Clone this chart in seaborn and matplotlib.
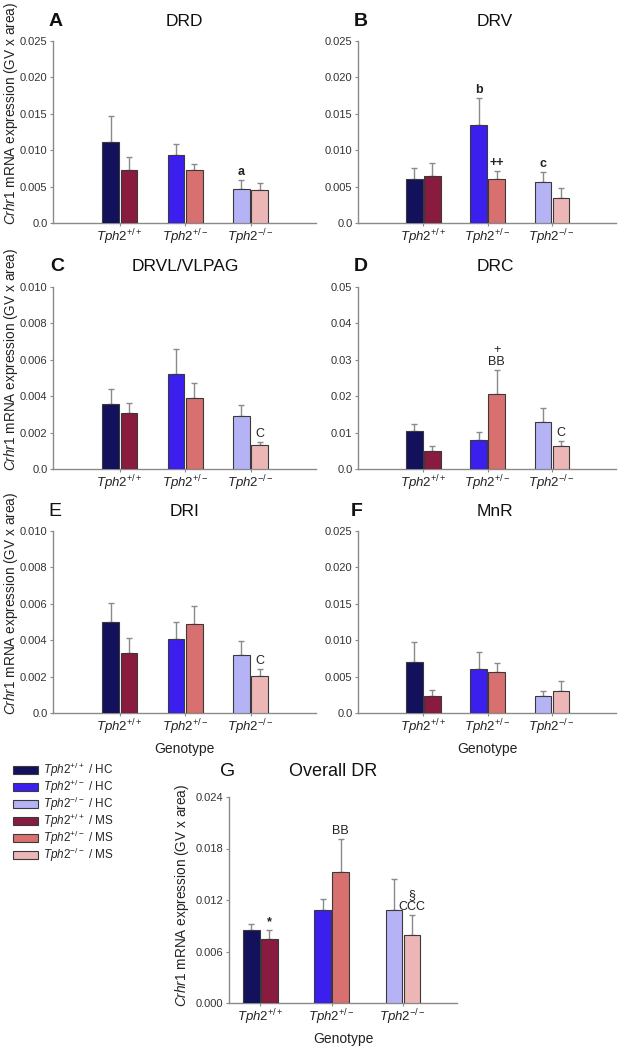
"""Crhr1 mRNA expression in DR subregions by Tph2 genotype and rearing condition."""
import matplotlib
matplotlib.use("Agg")
import matplotlib.pyplot as plt
import numpy as np
import pandas as pd
import seaborn as sns
from matplotlib.patches import Patch

# ---- data ----
GENOTYPES = ["+/+", "+/-", "-/-"]
CONDITIONS = ["HC", "MS"]

DRD_HC = [0.0111, 0.0093, 0.0047]
DRD_MS = [0.0073, 0.0073, 0.0045]
DRD_HC_SEM = [0.0036, 0.0016, 0.0012]
DRD_MS_SEM = [0.0018, 0.0008, 0.0010]

DRV_HC = [0.0061, 0.0134, 0.0057]
DRV_MS = [0.0065, 0.0060, 0.0035]
DRV_HC_SEM = [0.0014, 0.0038, 0.0013]
DRV_MS_SEM = [0.0018, 0.0012, 0.0013]

DRVL_HC = [0.00356, 0.00522, 0.00292]
DRVL_MS = [0.00307, 0.00392, 0.00131]
DRVL_HC_SEM = [0.00084, 0.00140, 0.00062]
DRVL_MS_SEM = [0.00058, 0.00078, 0.00015]

DRC_HC = [0.0105, 0.0079, 0.0130]
DRC_MS = [0.0050, 0.0205, 0.0064]
DRC_HC_SEM = [0.0020, 0.0024, 0.0037]
DRC_MS_SEM = [0.0014, 0.0066, 0.0014]

DRI_HC = [0.00502, 0.00407, 0.00321]
DRI_MS = [0.00329, 0.00489, 0.00201]
DRI_HC_SEM = [0.00101, 0.00092, 0.00077]
DRI_MS_SEM = [0.00082, 0.00099, 0.00042]

MNR_HC = [0.0070, 0.0061, 0.0023]
MNR_MS = [0.0024, 0.0057, 0.0030]
MNR_HC_SEM = [0.0027, 0.0023, 0.0007]
MNR_MS_SEM = [0.0008, 0.0011, 0.0014]

ALL_HC = [0.00845, 0.01084, 0.01080]
ALL_MS = [0.00743, 0.01527, 0.00796]
ALL_HC_SEM = [0.00076, 0.00132, 0.00370]
ALL_MS_SEM = [0.00110, 0.00386, 0.00227]

# (condition, genotype index, label)
DRD_MARKS = [("HC", 2, "a")]
DRV_MARKS = [("HC", 1, "b"), ("MS", 1, "++"), ("HC", 2, "c")]
DRVL_MARKS = [("MS", 2, "C")]
DRC_MARKS = [("MS", 1, "+\nBB"), ("MS", 2, "C")]
DRI_MARKS = [("MS", 2, "C")]
MNR_MARKS = []
ALL_MARKS = [("MS", 0, "*"), ("MS", 1, "BB"), ("MS", 2, "§\nCCC")]

TICKS_025 = [0, 0.005, 0.010, 0.015, 0.020, 0.025]
TICKS_010 = [0, 0.002, 0.004, 0.006, 0.008, 0.010]
TICKS_05 = [0, 0.01, 0.02, 0.03, 0.04, 0.05]
TICKS_024 = [0, 0.006, 0.012, 0.018, 0.024]

HC_COLORS = ["#13105c", "#3a1fef", "#b5b2f5"]
MS_COLORS = ["#891b3e", "#d8706f", "#ecb6b6"]

# ---- style ----
sns.set_theme(style="ticks")
plt.rcParams["font.family"] = ["Liberation Sans", "DejaVu Sans"]
plt.rcParams["mathtext.fontset"] = "custom"
plt.rcParams["mathtext.rm"] = "Liberation Sans"
plt.rcParams["mathtext.it"] = "Liberation Sans:italic"
plt.rcParams["mathtext.bf"] = "Liberation Sans:bold"

GREY = "#8a8a8a"
TEXT = "#222222"
W, H = 624, 1050
BOLD_MARKS = ("++", "*", "a", "b", "c")


def geno_label(g):
    return r"$\it{Tph2}^{\mathrm{" + g + "}}$"


def px_rect(left, top, right, bottom):
    return [left / W, 1 - bottom / H, (right - left) / W, (bottom - top) / H]


def panel(fig, rect, hc, ms, hc_sem, ms_sem, yticks, fmt, zero, marks,
          xlim=(-1.02, 3.0), width=0.56, genotype_label=False):
    ax = fig.add_axes(rect)
    df = pd.DataFrame({
        "genotype": GENOTYPES * 2,
        "condition": ["HC"] * 3 + ["MS"] * 3,
        "value": list(hc) + list(ms),
    })
    sns.barplot(data=df, x="genotype", y="value", hue="condition",
                order=GENOTYPES, hue_order=CONDITIONS,
                palette={"HC": HC_COLORS[0], "MS": MS_COLORS[0]},
                width=width, gap=0.09, errorbar=None, legend=False,
                edgecolor="#3a3a3a", linewidth=0.8, ax=ax, zorder=3)
    tops = {}
    for cond, cont, cols, sem in zip(CONDITIONS, ax.containers,
                                     [HC_COLORS, MS_COLORS], [hc_sem, ms_sem]):
        xs, hs = [], []
        for i, bar in enumerate(cont):
            bar.set_facecolor(cols[i])
            xs.append(bar.get_x() + bar.get_width() / 2)
            hs.append(bar.get_height())
        ax.errorbar(xs, hs, yerr=[np.zeros(3), sem], fmt="none", ecolor=GREY,
                    elinewidth=1.0, capsize=2.5, capthick=1.0, zorder=2)
        for i in range(3):
            tops[(cond, i)] = (xs[i], hs[i] + sem[i])
    for cond, gi, txt in marks:
        x, y = tops[(cond, gi)]
        ax.annotate(txt, (x, y), xytext=(0, 1.5), textcoords="offset points",
                    ha="center", va="bottom", fontsize=9, color=TEXT,
                    linespacing=1.0,
                    fontweight="bold" if txt in BOLD_MARKS else "normal")
    ax.set_xlim(*xlim)
    ax.set_ylim(0, yticks[-1])
    ax.set_yticks(yticks)
    ax.set_yticklabels([fmt.format(t) if t else zero for t in yticks])
    ax.set_xticks(range(3))
    ax.set_xticklabels([geno_label(g) for g in GENOTYPES], fontsize=9.5)
    ax.tick_params(axis="y", labelsize=8, length=2.5, width=0.8, color=GREY,
                   pad=1.5, labelcolor="#333333")
    ax.tick_params(axis="x", length=2, width=0.8, color=GREY, pad=1,
                   labelcolor=TEXT)
    ax.set_xlabel("Genotype" if genotype_label else "", fontsize=10,
                  color=TEXT, labelpad=4)
    ax.set_ylabel("")
    for side in ("top", "right"):
        ax.spines[side].set_visible(False)
    for side in ("left", "bottom"):
        ax.spines[side].set_color(GREY)
        ax.spines[side].set_linewidth(1.0)
    return ax


fig = plt.figure(figsize=(W / 100, H / 100), dpi=100)

panel(fig, px_rect(53, 41, 316, 223), DRD_HC, DRD_MS, DRD_HC_SEM, DRD_MS_SEM,
      TICKS_025, "{:.3f}", "0.0", DRD_MARKS)
panel(fig, px_rect(358, 41, 616, 223), DRV_HC, DRV_MS, DRV_HC_SEM, DRV_MS_SEM,
      TICKS_025, "{:.3f}", "0.0", DRV_MARKS)
panel(fig, px_rect(53, 287, 316, 469), DRVL_HC, DRVL_MS, DRVL_HC_SEM,
      DRVL_MS_SEM, TICKS_010, "{:.3f}", "0.0", DRVL_MARKS)
panel(fig, px_rect(358, 287, 616, 469), DRC_HC, DRC_MS, DRC_HC_SEM, DRC_MS_SEM,
      TICKS_05, "{:.2f}", "0.0", DRC_MARKS)
panel(fig, px_rect(53, 531, 316, 713), DRI_HC, DRI_MS, DRI_HC_SEM, DRI_MS_SEM,
      TICKS_010, "{:.3f}", "0.0", DRI_MARKS, genotype_label=True)
panel(fig, px_rect(358, 531, 616, 713), MNR_HC, MNR_MS, MNR_HC_SEM, MNR_MS_SEM,
      TICKS_025, "{:.3f}", "0.0", MNR_MARKS, genotype_label=True)
panel(fig, px_rect(229, 797, 457, 1003), ALL_HC, ALL_MS, ALL_HC_SEM, ALL_MS_SEM,
      TICKS_024, "{:.3f}", "0.000", ALL_MARKS, xlim=(-0.44, 2.76), width=0.505,
      genotype_label=True)

# panel letters and titles
titles = [("A", True, 56, 184, 22, "DRD"), ("B", True, 361, 495, 22, "DRV"),
          ("C", True, 57, 185, 267, "DRVL/VLPAG"), ("D", True, 361, 495, 267, "DRC"),
          ("E", False, 55, 185, 512, "DRI"), ("F", True, 357, 495, 512, "MnR")]
for letter, bold, lx, tx, ty, title in titles:
    fig.text(lx / W, 1 - ty / H, letter, fontsize=14,
             fontweight="bold" if bold else "normal", ha="center", va="center",
             color="#111111")
    fig.text(tx / W, 1 - ty / H, title, fontsize=12.5, ha="center",
             va="center", color="#111111")
fig.text(228 / W, 1 - 772 / H, "G", fontsize=14, ha="center", va="center",
         color="#111111")
fig.text(333 / W, 1 - 772 / H, "Overall DR", fontsize=13, ha="center",
         va="center", color="#111111")

# y-axis labels
ylab = r"$\it{Crhr1}$ mRNA expression (GV x area)"
for x, bottom in [(11, 225), (11, 471), (11, 715), (182, 1007)]:
    fig.text(x / W, 1 - bottom / H, ylab, rotation=90, fontsize=9.8,
             ha="center", va="bottom", color=TEXT)

# legend
handles = []
for cond, cols in zip(CONDITIONS, [HC_COLORS, MS_COLORS]):
    for g, c in zip(GENOTYPES, cols):
        handles.append(Patch(facecolor=c, edgecolor="#3a3a3a", linewidth=0.8,
                             label=geno_label(g) + " / " + cond))
fig.legend(handles=handles, loc="upper left", bbox_to_anchor=(13 / W, 1 - 761 / H),
           frameon=False, fontsize=8.5, handlelength=2.1, handleheight=0.65,
           labelspacing=-0.1, handletextpad=0.4, borderpad=0, borderaxespad=0)

fig.savefig("out.png", dpi=100)
